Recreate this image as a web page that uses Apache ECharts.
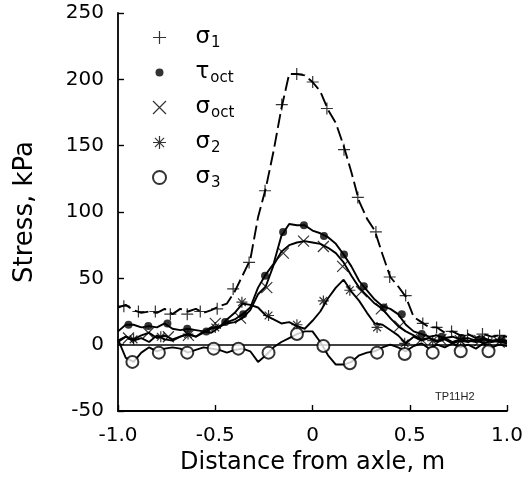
<!DOCTYPE html>
<html><head><meta charset="utf-8">
<script src="https://cdn.jsdelivr.net/npm/echarts@6/dist/echarts.min.js"></script>
<style>html,body{margin:0;padding:0;background:#fff}#c{width:527px;height:489px}</style>
</head><body><div id="c"></div>
<script>
// Shared x grid for the traced curves (m)
const xGrid = [-1.00,-0.96,-0.92,-0.88,-0.84,-0.80,-0.76,-0.72,-0.68,-0.64,-0.60,-0.56,-0.52,-0.48,-0.44,-0.40,-0.36,-0.32,-0.28,-0.24,-0.20,-0.16,-0.12,-0.08,-0.04,0.00,0.04,0.08,0.12,0.16,0.20,0.24,0.28,0.32,0.36,0.40,0.44,0.48,0.52,0.56,0.60,0.64,0.68,0.72,0.76,0.80,0.84,0.88,0.92,0.96,1.00];

// Curves (kPa)
const sigma1Line = [28,30,26,24,25,24,27,23,27,25,27,24,26,29,31,40,52,64,96,118,146,178,204,204,203,198,191,177,167,150,130,108,95,86,68,51,44,36,21,17,13,13,9,10,7,8,5,8,6,7,6];
const tauOctLine = [10,15,15,13,14,13,16,12,11,12,11,10,13,13,17,19,23,28,43,53,61,82,91,90,90,86,84,81,76,68,59,48,41,34,29,27,23,15,10,8,6,7,5,6,4,5,3,5,3,4,3];
const sigmaOctLine = [3,6,4,7,9,5,7,4,6,8,6,9,12,14,16,17,20,26,38,44,60,70,75,77,78,77,76,73,69,62,52,43,37,31,27,20,14,10,7,4,5,3,5,2,4,3,2,4,2,3,2];
const sigma2Line = [2,6,3,5,2,7,4,3,6,8,6,10,9,13,19,24,31,30,28,22,19,16,17,14,12,18,25,35,43,49,40,33,24,16,15,11,7,1,6,3,5,2,4,1,3,2,4,1,3,2,1];
const sigma3Line = [4,-10,-13,-6,-2,-5,-3,-2,-3,-6,-4,-2,-3,-4,-6,-4,-3,-5,-13,-8,-2,2,5,8,10,10,2,-8,-15,-15,-13,-8,-6,-5,-2,0,-2,-5,-1,1,-3,0,-2,1,-2,0,-3,1,-2,0,-1];

// Plotted markers
const sigma1MarkX = [-0.970,-0.895,-0.808,-0.731,-0.644,-0.577,-0.490,-0.408,-0.326,-0.244,-0.158,-0.081,0.001,0.074,0.162,0.233,0.326,0.397,0.479,0.567,0.638,0.715,0.797,0.874,0.962];
const sigma1MarkY = [29,25,25,23,23,25,27,42,62,116,181,204,198,178,147,111,85,51,37,16,13,10,7,8,7];
const tauOctMarkX = [-0.946,-0.844,-0.746,-0.644,-0.546,-0.449,-0.356,-0.244,-0.151,-0.044,0.059,0.162,0.264,0.367,0.459,0.562,0.664,0.767,0.869,0.972];
const tauOctMarkY = [15,14,16,12,10,17,23,52,85,90,82,68,44,28,23,8,6,5,4,4];
const sigmaOctMarkX = [-0.946,-0.844,-0.741,-0.638,-0.500,-0.370,-0.235,-0.150,-0.046,0.056,0.155,0.252,0.354,0.449,0.560,0.660,0.760,0.860,0.960];
const sigmaOctMarkY = [5,9,6,7,16,20,43,69,78,74,59,40,27,14,4,4,3,3,2];
const sigma2MarkX = [-0.920,-0.780,-0.640,-0.500,-0.363,-0.226,-0.080,0.056,0.192,0.332,0.474,0.618,0.762,0.905];
const sigma2MarkY = [4,6,8,13,32,22,15,33,41,13,1,3,3,2];
const sigma3MarkX = [-0.926,-0.790,-0.644,-0.508,-0.381,-0.226,-0.080,0.056,0.192,0.332,0.474,0.618,0.762,0.905];
const sigma3MarkY = [-13,-6,-6,-3,-3,-6,8,-1,-14,-6,-7,-6,-5,-5];

// Axis ticks
const xTickValues = [-1, -0.5, 0, 0.5, 1];
const xTickLabels = ['-1.0', '-0.5', '0', '0.5', '1.0'];
const seriesNames = ['σ1', 'τoct', 'σoct', 'σ2', 'σ3'];

const zip = (xs, ys) => xs.map((x, i) => [x, ys[i]]);
const plusPath = 'path://M0,5L10,5M5,0L5,10';
const crossPath = 'path://M0,0L10,10M10,0L0,10';
const starPath = 'path://M0,5L10,5M5,0L5,10M1.5,1.5L8.5,8.5M8.5,1.5L1.5,8.5';
// small filled dot inside a 13x13 box
const dotPath = 'path://M0,0M13,13M10.5,6.5A4,4 0 1,1 2.5,6.5A4,4 0 1,1 10.5,6.5Z';

function lineSeries(name, ys, dashed, extra) {
  return Object.assign({
    name: name, type: 'line', data: zip(xGrid, ys), symbol: 'none', showSymbol: false,
    silent: true, z: 2,
    lineStyle: { color: '#000', width: 1.9, type: dashed ? [14, 5] : 'solid' }
  }, extra || {});
}
function markSeries(name, xs, ys, symbol, size, style) {
  return { name: name, type: 'scatter', data: zip(xs, ys), symbol: symbol, symbolSize: size,
    silent: true, z: 5, itemStyle: style };
}
const strokeStyle = { color: 'transparent', borderColor: '#000', borderWidth: 1.2 };

const chart = echarts.init(document.getElementById('c'), null, { renderer: 'canvas' });
chart.setOption({
  animation: false,
  backgroundColor: '#fff',
  grid: { left: 118, right: 20, top: 13, bottom: 78, containLabel: false },
  xAxis: {
    type: 'value', min: -1, max: 1, interval: 0.5,
    axisLine: { onZero: false, lineStyle: { color: '#000', width: 1.8 } },
    axisTick: { inside: true, length: 6, lineStyle: { color: '#000', width: 1.4 } },
    splitLine: { show: false },
    axisLabel: { color: '#000', fontFamily: 'DejaVu Sans', fontSize: 20, margin: 15,
      formatter: v => { const i = xTickValues.findIndex(t => Math.abs(t - v) < 1e-9); return i >= 0 ? xTickLabels[i] : ''; } },
    name: 'Distance from axle, m', nameLocation: 'middle', nameGap: 39,
    nameTextStyle: { color: '#000', fontFamily: 'DejaVu Sans', fontSize: 24 }
  },
  yAxis: {
    type: 'value', min: -50, max: 250, interval: 50,
    axisLine: { onZero: false, lineStyle: { color: '#000', width: 1.8 } },
    axisTick: { inside: true, length: 6, lineStyle: { color: '#000', width: 1.4 } },
    splitLine: { show: false },
    axisLabel: { color: '#000', fontFamily: 'DejaVu Sans', fontSize: 20, margin: 14 },
    name: 'Stress, kPa', nameLocation: 'middle', nameGap: 80, nameRotate: 90,
    nameTextStyle: { color: '#000', fontFamily: 'DejaVu Sans', fontSize: 26 }
  },
  legend: {
    data: seriesNames, orient: 'vertical', left: 152, top: 24, padding: 0,
    itemWidth: 62, itemHeight: 13, itemGap: 8, selectedMode: false,
    itemStyle: { borderWidth: 1.2 },
    formatter: n => '{g|' + n.charAt(0) + '}{s|' + n.slice(1) + '}',
    textStyle: { color: '#000', rich: {
      g: { fontFamily: 'DejaVu Sans', fontSize: 23, lineHeight: 27, color: '#000' },
      s: { fontFamily: 'DejaVu Sans', fontSize: 15, lineHeight: 27, color: '#000', padding: [12, 0, 0, 1] }
    } }
  },
  graphic: [{ type: 'text', left: 435, top: 391, silent: true,
    style: { text: 'TP11H2', fontFamily: 'Liberation Sans', fontSize: 11, fill: '#222' } }],
  series: [
    lineSeries('σ1 line', sigma1Line, true),
    lineSeries('τoct line', tauOctLine, false),
    lineSeries('σoct line', sigmaOctLine, false),
    lineSeries('σ2 line', sigma2Line, false),
    lineSeries('σ3 line', sigma3Line, false, {
      markLine: { silent: true, symbol: ['none', 'none'], label: { show: false },
        lineStyle: { color: '#000', type: 'solid', width: 1.6 }, data: [{ yAxis: 0 }] }
    }),
    markSeries('σ1', sigma1MarkX, sigma1MarkY, plusPath, 12, strokeStyle),
    markSeries('τoct', tauOctMarkX, tauOctMarkY, dotPath, 13, { color: '#000', borderWidth: 0 }),
    markSeries('σoct', sigmaOctMarkX, sigmaOctMarkY, crossPath, 11, strokeStyle),
    markSeries('σ2', sigma2MarkX, sigma2MarkY, starPath, 11, strokeStyle),
    markSeries('σ3', sigma3MarkX, sigma3MarkY, 'emptyCircle', 12, { color: '#000', borderWidth: 1.2 })
  ]
});
</script></body></html>
